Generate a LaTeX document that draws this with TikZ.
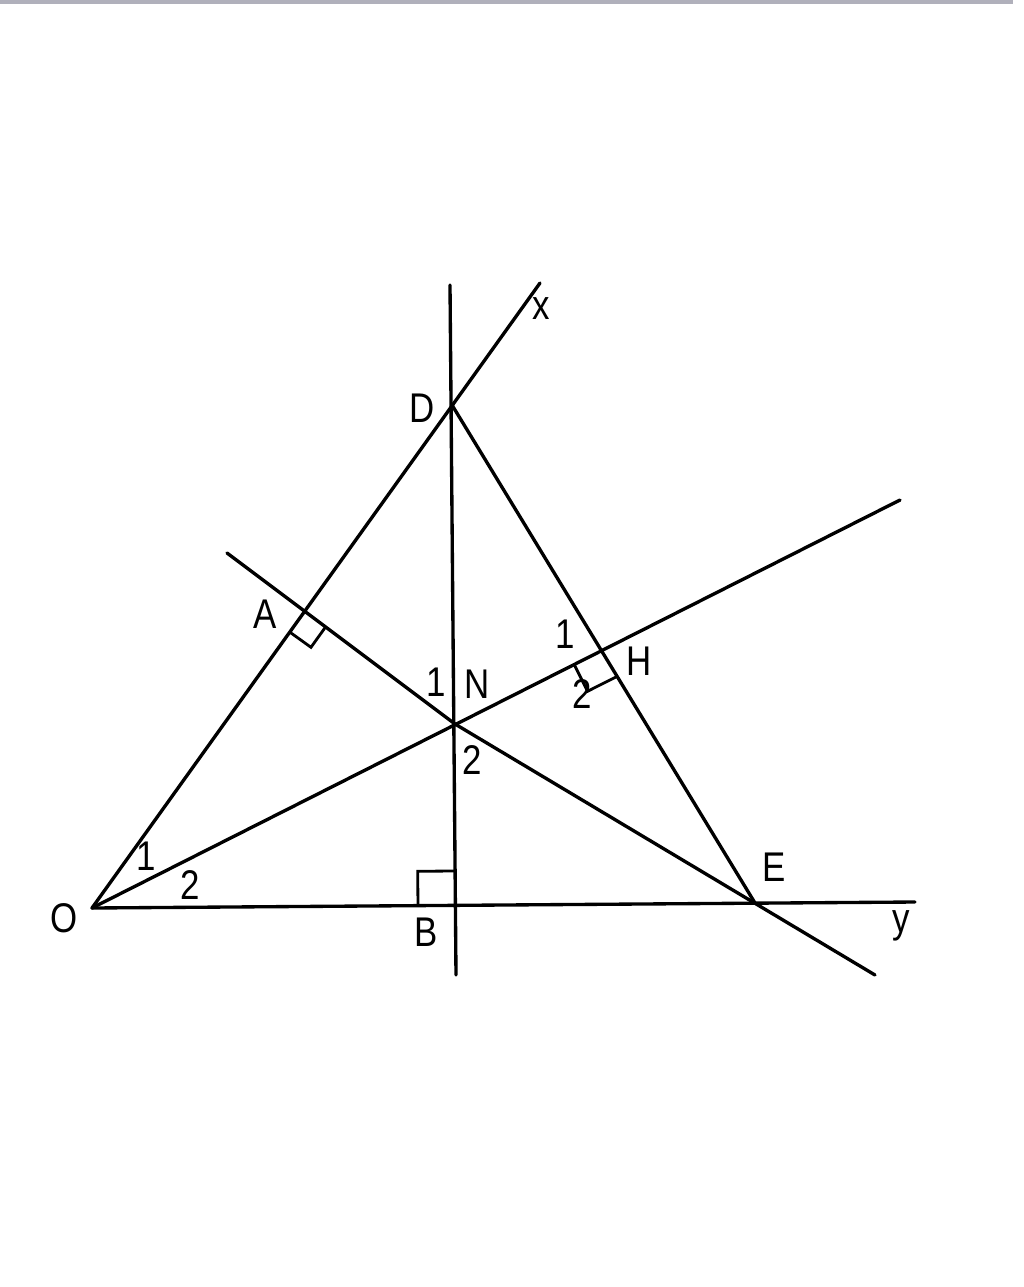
\documentclass[tikz,border=0pt]{standalone}
\usepackage{fontspec}
\setmainfont{Liberation Sans}
\newfontfamily\lblfont[FakeStretch=0.84]{Liberation Sans}
\usetikzlibrary{calc}

\begin{document}
\begin{tikzpicture}[
  x=0.01cm, y=-0.01cm,
  geo/.style={line width=0.95pt, line cap=round},
  rightmark/.style={line width=0.8pt},
  lbl/.style={inner sep=0pt, font=\lblfont\fontsize{11.8}{14}\selectfont}
]
\useasboundingbox (0,0) rectangle (1024,1287);
\fill[black!30!blue!8!white!75!black] (0,0) rectangle (1013,4);

%% Points of the figure
\coordinate (O) at (92,908);
\coordinate (D) at (452,405);
\coordinate (A) at (305,611);
\coordinate (N) at (455,724);
\coordinate (H) at (601,651);
\coordinate (E) at (755,903);
\coordinate (B) at (455,905);

%% Free ends of the lines
\coordinate (xend)   at (540,283);
\coordinate (yend)   at (915,902);
\coordinate (vtop)   at (450,285);
\coordinate (vbot)   at (456,975);
\coordinate (bisend) at (900,500);
\coordinate (astart) at (227,553);
\coordinate (eend)   at (875,975);

%% Lines
\draw[geo] (O) -- (xend);
\draw[geo] (O) -- (yend);
\draw[geo] (O) -- (bisend);
\draw[geo] (vtop) -- (vbot);
\draw[geo] (D) -- (E);
\draw[geo] (astart) -- (N) -- (eend);

%% Right angle marks
\draw[rightmark] ($(A)!0.26cm!(O)$) -- ($(A)!0.26cm!(O)!0.26cm!90:(O)$) -- ($(A)!0.26cm!(N)$);
\draw[rightmark] ($(B)!0.37cm!(O)$) -- ($(B)!0.37cm!(O)!0.34cm!-90:(O)$) -- ($(B)!0.34cm!(vtop)$);
\draw[rightmark] ($(H)!0.3cm!(N)$) -- ($(H)!0.3cm!(N)!0.3cm!90:(N)$) -- ($(H)!0.3cm!(E)$);

%% Labels
\node[lbl] (lx) at (541,309) {x};
\node[lbl] (ly) at (901,926) {y};
\node[lbl] (lO) at (64,918)  {O};
\node[lbl] (lD) at (422,408) {D};
\node[lbl] (lA) at (265,614) {A};
\node[lbl] (lN) at (477,684) {N};
\node[lbl] (lH) at (639,661) {H};
\node[lbl] (lB) at (426,932) {B};
\node[lbl] (lE) at (774,867) {E};

%% Angle numbers
\node[lbl] (o1) at (146,856) {1};
\node[lbl] (o2) at (190,885) {2};
\node[lbl] (n1) at (436,682) {1};
\node[lbl] (n2) at (472,760) {2};
\node[lbl] (h1) at (565,634) {1};
\node[lbl] (h2) at (582,694) {2};

\end{tikzpicture}
\end{document}
